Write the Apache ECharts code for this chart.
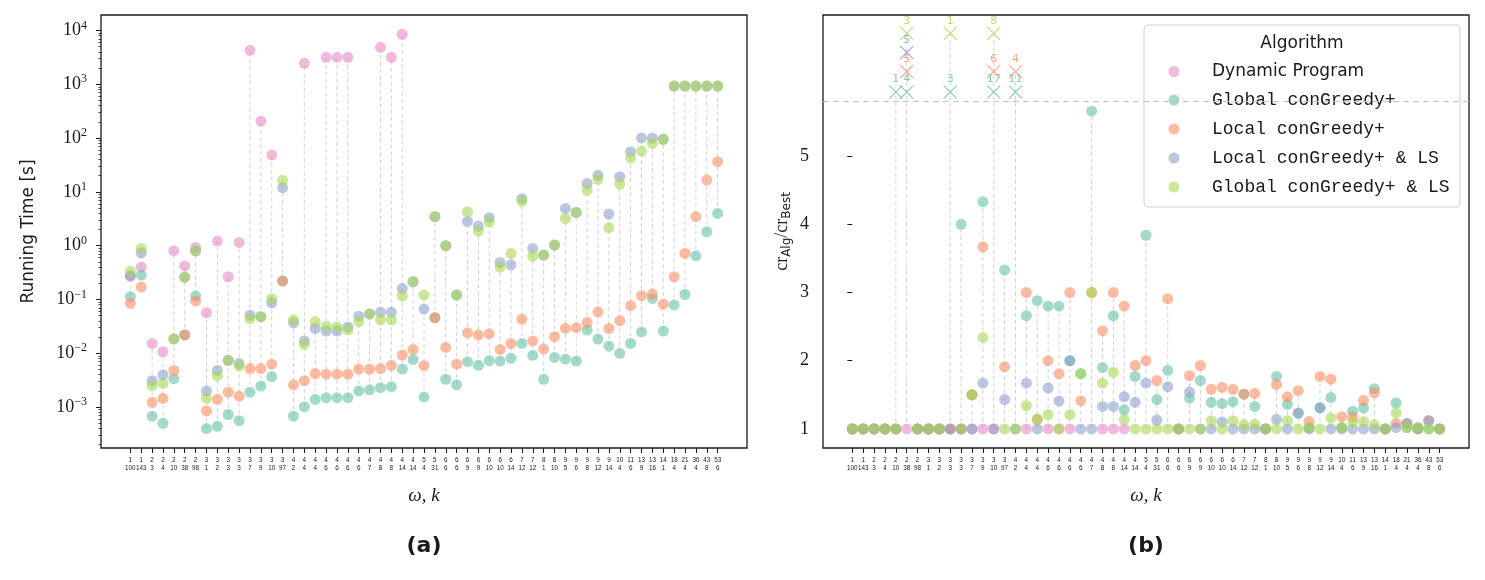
<!DOCTYPE html>
<html>
<head>
<meta charset="utf-8">
<title>Running time and ratio per instance</title>
<script src="https://cdn.jsdelivr.net/npm/echarts@6/dist/echarts.min.js"></script>
<style>
  html, body { margin: 0; padding: 0; background: #fff; }
  #chart { width: 1485px; height: 580px; }
</style>
</head>
<body>
<div id="chart"></div>
<script>
// instances: omega on the first label line, k on the second
const omegas = [1, 1, 2, 2, 2, 2, 2, 3, 3, 3, 3, 3, 3, 3, 3, 4, 4, 4, 4, 4, 4, 4, 4, 4, 4, 4, 4, 5, 5,
  6, 6, 6, 6, 6, 6, 6, 7, 7, 8, 8, 9, 9, 9, 9, 9, 10, 11, 13, 13, 14, 18, 21, 36, 43, 53];
const ks = [100, 143, 3, 4, 10, 38, 98, 1, 2, 3, 3, 7, 9, 10, 97, 2, 4, 4, 6, 6, 6, 6, 7, 8, 8, 14, 14, 4, 31,
  6, 6, 9, 9, 10, 10, 14, 12, 12, 1, 10, 5, 6, 8, 12, 14, 4, 6, 9, 16, 1, 4, 4, 4, 8, 6];

const names = ['Dynamic Program', 'Global conGreedy+', 'Local conGreedy+',
  'Local conGreedy+ & LS', 'Global conGreedy+ & LS'];
const colors = ['#e78ac3', '#66c2a5', '#fc8d62', '#8da0cb', '#a6d854'];

// (a) running time [s], null = not run
const timeDP = [0.27, 0.40, 0.0153, 0.0107, 0.81, 0.42, 0.93, 0.057, 1.22, 0.265, 1.15, 4270, 207, 48.4,
  null, null, 2450, null, 3170, 3170, 3170, null, null, 4860, 3170, 8470,
  null, null, null, null, null, null, null, null, null, null, null, null, null, null, null,
  null, null, null, null, null, null, null, null, null, null, null, null, null, null];
const timeGlobal = [0.113, 0.285, 0.00068, 0.0005, 0.0034, 0.022, 0.116, 0.0004, 0.00044, 0.00073, 0.00056,
  0.0019, 0.00246, 0.0037, 0.22, 0.00068, 0.00102, 0.00139, 0.0015, 0.0015, 0.0015, 0.002, 0.0021, 0.0023,
  0.0024, 0.0051, 0.0077, 0.00155, 0.046, 0.0033, 0.0026, 0.007, 0.006, 0.0073, 0.0072, 0.0081, 0.0153,
  0.0092, 0.0033, 0.0084, 0.0078, 0.0072, 0.027, 0.0184, 0.0136, 0.01, 0.0153, 0.025, 0.105, 0.026,
  0.079, 0.124, 0.65, 1.82, 3.99];
const timeLocal = [0.085, 0.17, 0.00123, 0.00145, 0.0048, 0.022, 0.094, 0.00085, 0.0014, 0.0019, 0.0016,
  0.0052, 0.0052, 0.0063, 0.22, 0.0026, 0.0031, 0.0042, 0.0041, 0.0041, 0.0041, 0.0051, 0.0051, 0.0052,
  0.006, 0.0093, 0.0118, 0.0059, 0.046, 0.0129, 0.0063, 0.024, 0.022, 0.023, 0.0118, 0.0153, 0.043,
  0.017, 0.012, 0.0204, 0.029, 0.03, 0.0376, 0.059, 0.029, 0.0405, 0.077, 0.118, 0.126, 0.082,
  0.265, 0.72, 3.46, 16.6, 36.4];
const timeLocalLS = [0.28, 0.74, 0.0031, 0.004, 0.0185, 0.26, 0.8, 0.002, 0.0048, 0.0074, 0.0065,
  0.051, 0.048, 0.087, 12, 0.037, 0.017, 0.029, 0.026, 0.026, 0.031, 0.049, 0.054, 0.058, 0.058,
  0.16, 0.214, 0.066, 3.46, 1.0, 0.121, 2.83, 2.32, 3.31, 0.49, 0.44, 7.5, 0.89, 0.67, 1.03, 4.94,
  4.16, 14.4, 20.3, 3.88, 19.2, 55.9, 100, 100, 94.7, 930, 930, 930, 930, 930];
const timeGlobalLS = [0.34, 0.89, 0.0025, 0.00276, 0.0185, 0.26, 0.8, 0.00145, 0.0038, 0.0074, 0.0058,
  0.044, 0.048, 0.103, 16.4, 0.042, 0.0147, 0.039, 0.032, 0.031, 0.027, 0.039, 0.054, 0.042, 0.042,
  0.116, 0.214, 0.121, 3.46, 1.0, 0.121, 4.28, 1.87, 2.75, 0.4, 0.72, 6.67, 0.64, 0.67, 1.03, 3.22,
  4.16, 10.7, 17.1, 2.16, 14, 42.6, 56.7, 80, 94.7, 930, 930, 930, 930, 930];

// (b) cr_Alg / cr_Best, null = not run or above the cut
const crDP = [1, 1, 1, 1, 1, 1, 1, 1, 1, 1, 1, 1, 1, 1, null, null, 1, null, 1, 1, 1, null, null, 1, 1, 1,
  null, null, null, null, null, null, null, null, null, null, null, null, null, null, null,
  null, null, null, null, null, null, null, null, null, null, null, null, null, null];
const crGlobal = [1, 1, 1, 1, null, null, 1, 1, 1, null, 4.0, 1.5, 4.33, null, 3.33, null, 2.66, 2.88,
  2.8, 2.8, 2.0, 1.81, 5.66, 1.9, 2.66, 1.28, 1.77, 3.84, 1.43, 1.86, 1, 1.45, 1.71, 1.39, 1.37, 1.4,
  1.51, 1.33, 1, 1.77, 1.36, 1.23, 1.02, 1.31, 1.46, 1.02, 1.26, 1.31, 1.59, 1, 1.38, 1.02, 1.02, 1, 1];
const crLocal = [1, 1, 1, 1, 1, null, 1, 1, 1, 1, 1, 1.5, 3.67, null, 1.91, null, 3.0, 1.14, 2.0, 1.81,
  3.0, 1.41, 3.0, 2.44, 3.0, 2.8, 1.93, 2.0, 1.71, 2.91, 1, 1.78, 1.93, 1.58, 1.61, 1.58, 1.51, 1.52,
  1, 1.65, 1.47, 1.56, 1.11, 1.77, 1.73, 1.18, 1.17, 1.42, 1.53, 1, 1.08, 1.08, 1, 1.12, 1];
const crLocalLS = [1, 1, 1, 1, 1, null, 1, 1, 1, 1, 1, 1, 1.67, 1, 1.43, 1, 1.67, 1, 1.6, 1.41, 2.0, 1,
  1, 1.33, 1.33, 1.47, 1.39, 1.67, 1.13, 1.62, 1, 1.54, 1, 1, 1.1, 1, 1, 1, 1, 1.14, 1, 1.23, 1, 1.31,
  1, 1, 1, 1, 1, 1, 1.02, 1.08, 1, 1.12, 1];
const crGlobalLS = [1, 1, 1, 1, 1, null, 1, 1, 1, null, 1, 1.5, 2.34, null, 1, 1, 1.34, 1.14, 1.21, 1,
  1.21, 1.81, 3.0, 1.67, 1.83, 1.14, 1, 1, 1, 1, 1, 1, 1, 1.12, 1, 1.12, 1.06, 1.07, 1, 1, 1.12, 1,
  1.02, 1, 1.16, 1.02, 1.1, 1.11, 1.06, 1, 1.23, 1.02, 1.02, 1, 1];

// points above the cut: [instance index, printed number]
const outGlobal = [[4, 1], [5, 4], [9, 3], [13, 17], [15, 11]];
const outLocal = [[5, 5], [13, 6], [15, 4]];
const outLocalLS = [[5, 5]];
const outGlobalLS = [[5, 3], [9, 1], [13, 8]];
const cutValue = 5.81;

const timeSeries = [timeDP, timeGlobal, timeLocal, timeLocalLS, timeGlobalLS];
const crSeries = [crDP, crGlobal, crLocal, crLocalLS, crGlobalLS];
const outSeries = [null, outGlobal, outLocal, outLocalLS, outGlobalLS];
// rows where the crosses are drawn above the cut
const outRows = [null, 5.94, 6.24, 6.52, 6.8];

const idx = omegas.map((_, i) => i);
const ink = '#1a1a1a';
const sans = 'DejaVu Sans';
const serif = 'Liberation Serif';

const pts = arr => arr.map((v, i) => [i, v]).filter(p => p[1] != null);

// dashed stem from the lowest to the highest mark of each instance
const stemData = (lists, extra) => idx.map(i => {
  let vals = lists.map(l => l[i]).filter(v => v != null);
  if (extra) vals = vals.concat(extra[i]);
  return [i, Math.min(...vals), Math.max(...vals)];
});

const outLevels = idx.map(i => {
  const lv = [];
  outSeries.forEach((o, s) => { if (o && o.some(p => p[0] === i)) lv.push(outRows[s]); });
  return lv;
});

const stems = (xi, yi, data) => ({
  type: 'custom', xAxisIndex: xi, yAxisIndex: yi, silent: true, z: 1,
  encode: { x: 0, y: [1, 2] },
  data: data,
  renderItem: (params, api) => {
    const a = api.coord([api.value(0), api.value(1)]);
    const b = api.coord([api.value(0), api.value(2)]);
    return {
      type: 'line',
      shape: { x1: a[0], y1: a[1], x2: b[0], y2: b[1] },
      style: { stroke: '#d2d2d2', lineWidth: 1, lineDash: [4, 3] }
    };
  }
});

const xAxisFor = gi => ({
  type: 'value', gridIndex: gi, min: -2.7, max: 56.7, position: 'bottom',
  axisLine: { show: false, onZero: false }, splitLine: { show: false },
  axisTick: { customValues: idx, length: 5, lineStyle: { color: ink, width: 1 } },
  axisLabel: {
    customValues: idx, margin: 9, color: ink, fontFamily: 'Liberation Sans', fontSize: 6.3, lineHeight: 7.5,
    showMinLabel: true, showMaxLabel: true, hideOverlap: false,
    formatter: v => omegas[v] + '\n' + ks[v]
  },
  name: 'ω, k', nameLocation: 'middle', nameGap: 38,
  nameTextStyle: { fontFamily: serif, fontStyle: 'italic', fontSize: 19, color: ink }
});

const sup = n => (n < 0 ? '−' + (-n) : '' + n);
const minorTicks = [];
for (let e = -4; e <= 4; e++) {
  for (let m = 2; m <= 9; m++) {
    const v = e + Math.log10(m);
    if (v > -3.76 && v < 4.288) minorTicks.push(v);
  }
}

const series = [stems(0, 0, stemData(timeSeries))];
names.forEach((n, s) => {
  series.push({
    type: 'scatter', name: n, xAxisIndex: 0, yAxisIndex: 0, z: 2,
    symbolSize: 11, itemStyle: { color: colors[s], opacity: 0.6 },
    data: pts(timeSeries[s])
  });
});
series.push(stems(1, 3, stemData(crSeries, outLevels)));
names.forEach((n, s) => {
  const sr = {
    type: 'scatter', name: n, xAxisIndex: 1, yAxisIndex: 3, z: 2,
    symbolSize: 11, itemStyle: { color: colors[s], opacity: 0.6 },
    data: pts(crSeries[s])
  };
  if (s === 0) {
    sr.markLine = {
      silent: true, symbol: 'none', label: { show: false },
      lineStyle: { color: '#c4c4c4', type: [6, 4], width: 1.2 },
      data: [{ yAxis: cutValue }]
    };
  }
  series.push(sr);
});
outSeries.forEach((o, s) => {
  if (!o) return;
  series.push({
    type: 'scatter', name: names[s], xAxisIndex: 1, yAxisIndex: 3, z: 3,
    symbol: 'path://M0,0L10,10M10,0L0,10', symbolSize: 13,
    itemStyle: { color: 'transparent', borderColor: colors[s], borderWidth: 1.1 },
    label: {
      show: true, position: 'top', distance: 0, color: colors[s],
      fontFamily: sans, fontSize: 11, formatter: p => '' + p.data[2]
    },
    data: o.map(p => [p[0], outRows[s], p[1]])
  });
});

const decoAxis = (ticks, len, w) => ({
  type: 'value', gridIndex: 0, min: -3.76, max: 4.288, position: 'left', offset: 0,
  axisLine: { show: false, onZero: false }, splitLine: { show: false }, axisLabel: { show: false },
  axisTick: { customValues: ticks, length: len, lineStyle: { color: ink, width: w } }
});

const chart = echarts.init(document.getElementById('chart'));
chart.setOption({
  animation: false,
  backgroundColor: '#fff',
  title: [
    { text: 'Algorithm', left: 1302, top: 35, textAlign: 'center', padding: 0,
      textStyle: { fontFamily: sans, fontSize: 17, fontWeight: 'normal', color: ink }, z: 10 },
    { text: '(a)', left: 424, top: 535, textAlign: 'center', padding: 0,
      textStyle: { fontFamily: sans, fontSize: 22, fontWeight: 'bold', color: ink } },
    { text: '(b)', left: 1146, top: 535, textAlign: 'center', padding: 0,
      textStyle: { fontFamily: sans, fontSize: 22, fontWeight: 'bold', color: ink } }
  ],
  legend: {
    orient: 'vertical', left: 1144, top: 25,
    data: names, icon: 'circle', itemWidth: 11, itemHeight: 11, itemGap: 11,
    padding: [38, 8, 11, 24.5],
    backgroundColor: 'rgba(255,255,255,0.8)', borderColor: '#cfcfcf', borderWidth: 1, borderRadius: 4,
    itemStyle: { opacity: 0.6 },
    formatter: n => '{g|}' + (n === names[0] ? '{s|' : '{m|') + n + '}',
    textStyle: {
      rich: {
        g: { width: 27.5 },
        s: { fontFamily: sans, fontSize: 17, width: 240, lineHeight: 20, color: ink },
        m: { fontFamily: 'Liberation Mono', fontSize: 18, width: 240, lineHeight: 20, color: ink }
      }
    }
  },
  grid: [
    { left: 101, top: 15, width: 646, height: 433, show: true, borderColor: ink, borderWidth: 1.3 },
    { left: 823, top: 15, width: 646, height: 433, show: true, borderColor: ink, borderWidth: 1.3 }
  ],
  xAxis: [xAxisFor(0), xAxisFor(1)],
  yAxis: [
    {
      type: 'log', gridIndex: 0, min: 1.74e-4, max: 1.94e4, position: 'left',
      axisLine: { show: false }, axisTick: { show: false }, splitLine: { show: false },
      axisLabel: {
        margin: 14, color: ink,
        formatter: v => {
          const l = Math.log10(v), e = Math.round(l);
          if (Math.abs(l - e) > 1e-6) return '';
          return '{b|10}{s|' + sup(e) + '}';
        },
        rich: {
          b: { fontFamily: serif, fontSize: 18, lineHeight: 22, verticalAlign: 'middle', color: ink },
          s: { fontFamily: serif, fontSize: 12, lineHeight: 12, verticalAlign: 'top', color: ink }
        }
      },
      name: 'Running Time [s]', nameLocation: 'middle', nameGap: 64,
      nameTextStyle: { fontFamily: sans, fontSize: 17, color: ink }
    },
    decoAxis([-3, -2, -1, 0, 1, 2, 3, 4], 5, 1),
    decoAxis(minorTicks, 2.5, 0.8),
    {
      type: 'value', gridIndex: 1, min: 0.72, max: 7.07, position: 'left',
      axisLine: { show: false }, splitLine: { show: false },
      axisTick: { customValues: [1, 2, 3, 4, 5], length: 5, lineStyle: { color: ink, width: 1 } },
      axisLabel: { customValues: [1, 2, 3, 4, 5], margin: 14, fontFamily: serif, fontSize: 18, color: ink },
      name: '{c|cr}{u|Alg}{c|/cr}{u|Best}', nameLocation: 'middle', nameGap: 30,
      nameTextStyle: {
        color: ink,
        rich: {
          c: { fontFamily: serif, fontSize: 18, lineHeight: 22, verticalAlign: 'middle', color: ink },
          u: { fontFamily: sans, fontSize: 12, lineHeight: 22, verticalAlign: 'bottom', color: ink }
        }
      }
    }
  ],
  series: series
});
</script>
</body>
</html>
